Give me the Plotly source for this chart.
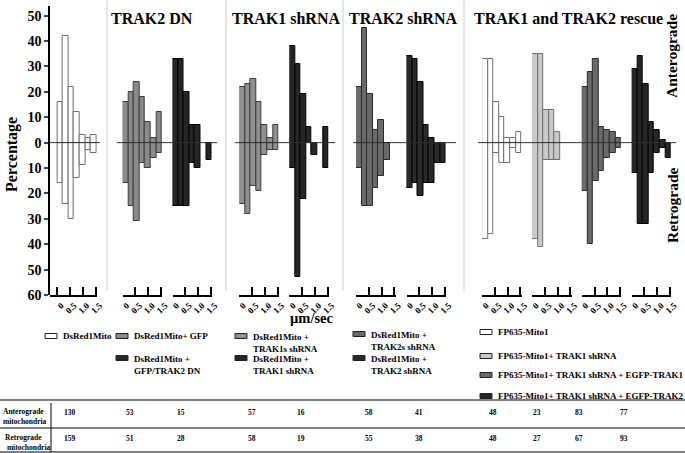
import plotly.graph_objects as go

W, H = 685, 453


def px(x):
    return x / W


def py(y):
    return 1 - y / H


# speed bins (um/sec), bar centres
speed_bins = [0.11, 0.33, 0.55, 0.77, 0.99, 1.21, 1.43]
bin_width = 0.22

# percentage of mitochondria per speed bin (anterograde up, retrograde down)
dsred_ant = [16, 42, 22, 12, 3, 2, 3]
dsred_ret = [16, 24, 30, 14, 9, 3, 4]
gfp_ant = [16, 20, 24, 18, 8, 2, 12]
gfp_ret = [16, 25, 31, 8, 10, 6, 4]
trak2dn_ant = [33, 33, 20, 7, 7, 0, 0]
trak2dn_ret = [25, 25, 25, 8, 10, 0, 7]
trak1s_ant = [22, 23, 25, 16, 7, 2, 7]
trak1s_ret = [24, 28, 17, 19, 5, 3, 3]
trak1sh_ant = [38, 31, 19, 6, 0, 0, 6]
trak1sh_ret = [10, 53, 22, 0, 5, 0, 10]
trak2s_ant = [22, 45, 19, 5, 9, 0, 0]
trak2s_ret = [10, 25, 25, 18, 13, 7, 0]
trak2sh_ant = [34, 33, 24, 7, 2, 0, 0]
trak2sh_ret = [18, 16, 21, 16, 16, 8, 8]
fp_ant = [33, 33, 16, 10, 2, 2, 4]
fp_ret = [38, 36, 4, 8, 8, 2, 4]
fpsh_ant = [35, 35, 13, 13, 4, 0, 0]
fpsh_ret = [38, 41, 7, 7, 7, 0, 0]
resc1_ant = [22, 28, 33, 6, 5, 4, 2]
resc1_ret = [19, 40, 15, 11, 6, 4, 2]
resc2_ant = [29, 34, 23, 8, 5, 1, 0]
resc2_ret = [12, 32, 32, 12, 4, 2, 6]

ant_counts = [130, 53, 15, 57, 16, 58, 41, 48, 23, 83, 77]
ret_counts = [159, 51, 28, 58, 19, 55, 38, 48, 27, 67, 93]

legend_labels = [
    "DsRed1Mito", "DsRed1Mito+ GFP", "DsRed1Mito +<br>GFP/TRAK2 DN",
    "DsRed1Mito +<br>TRAK1s shRNA", "DsRed1Mito +<br>TRAK1 shRNA",
    "DsRed1Mito +<br>TRAK2s shRNA", "DsRed1Mito +<br>TRAK2 shRNA",
    "FP635-Mito1", "FP635-Mito1+ TRAK1 shRNA",
    "FP635-Mito1+ TRAK1 shRNA + EGFP-TRAK1",
    "FP635-Mito1+ TRAK1 shRNA + EGFP-TRAK2",
]
panel_titles = ["TRAK2 DN", "TRAK1 shRNA", "TRAK2 shRNA", "TRAK1 and TRAK2 rescue"]

series = [
    (dsred_ant, dsred_ret), (gfp_ant, gfp_ret), (trak2dn_ant, trak2dn_ret),
    (trak1s_ant, trak1s_ret), (trak1sh_ant, trak1sh_ret),
    (trak2s_ant, trak2s_ret), (trak2sh_ant, trak2sh_ret),
    (fp_ant, fp_ret), (fpsh_ant, fpsh_ret), (resc1_ant, resc1_ret), (resc2_ant, resc2_ret),
]

# styles / layout
fills = ["#ffffff", "#8a8a8a", "#262626", "#909090", "#262626", "#6a6a6a", "#2a2a2a",
         "#ffffff", "#c9c9c9", "#6a6a6a", "#262626"]
edges = ["#6e6e6e", "#3a3a3a", "#000000", "#3a3a3a", "#000000", "#2a2a2a", "#000000",
         "#6e6e6e", "#6e6e6e", "#2a2a2a", "#000000"]
group_start = [57.3, 122.7, 172.5, 239.3, 289.3, 356, 406.5, 482.2, 532.2, 581.8, 631.7]
unit = 25.5
y_top, y_bot = 6, 295
FONT = "Liberation Serif"

fig = go.Figure()
layout_axes = {}
for i, (ant, ret) in enumerate(series):
    xa = "x" if i == 0 else f"x{i + 1}"
    fig.add_trace(go.Bar(x=speed_bins, y=[v if v else None for v in ant], width=bin_width,
                         marker=dict(color=fills[i], line=dict(color=edges[i], width=1)),
                         xaxis=xa, yaxis="y", showlegend=False, hoverinfo="skip"))
    fig.add_trace(go.Bar(x=speed_bins, y=[-v if v else None for v in ret], width=bin_width,
                         marker=dict(color=fills[i], line=dict(color=edges[i], width=1)),
                         xaxis=xa, yaxis="y", showlegend=False, hoverinfo="skip"))
    lo = 0.3 if i == 0 else 0.0
    s = group_start[i]
    name = "xaxis" if i == 0 else f"xaxis{i + 1}"
    layout_axes[name] = dict(
        domain=[px(s - lo * unit), px(s + 1.55 * unit)], range=[-lo, 1.55],
        anchor="y", automargin=False, showgrid=False, zeroline=False, showline=True,
        linecolor="black", linewidth=1.5, ticks="inside", ticklen=8, tickwidth=1.5,
        tickcolor="black", tickvals=[0, 0.5, 1.0, 1.5], ticktext=["0", "0.5", "1.0", "1.5"],
        tickangle=-45, ticklabelshift=4,
        tickfont=dict(family=FONT, size=9, weight="bold", color="black"),
    )

fig.update_layout(**layout_axes)
fig.update_layout(
    width=W, height=H, margin=dict(l=0, r=0, t=0, b=0, autoexpand=False),
    paper_bgcolor="white", plot_bgcolor="rgba(0,0,0,0)", barmode="relative", bargap=0,
    showlegend=False,
    yaxis=dict(domain=[py(y_bot), py(y_top)], range=[-60, 53.8], anchor="free",
               position=px(49), automargin=False, showgrid=False, zeroline=False,
               showline=True, linecolor="black", linewidth=1.5, ticks="outside", ticklen=4,
               tickwidth=1.5, tickvals=list(range(-60, 51, 10)),
               ticktext=[str(abs(v)) for v in range(-60, 51, 10)],
               tickfont=dict(family=FONT, size=14, weight="bold", color="black")),
)

shapes = []
ann = []

# panel separators and zero lines
for xs in [107, 226, 343, 464]:
    shapes.append(dict(type="line", xref="paper", yref="paper", x0=px(xs), x1=px(xs),
                       y0=py(0), y1=py(291), line=dict(color="#dddddd", width=1.5)))
for a, b in [(49, 100), (117, 217), (235, 335), (353, 456), (478, 676)]:
    shapes.append(dict(type="line", xref="paper", yref="y", x0=px(a), x1=px(b), y0=0, y1=0,
                       line=dict(color="#333333", width=1)))

# titles
for t, xs in zip(panel_titles, [109, 230, 347, 472]):
    ann.append(dict(text=t, x=px(xs), y=py(19), xanchor="left", yanchor="middle",
                    font=dict(family=FONT, size=16, weight="bold", color="black")))
ann.append(dict(text="Percentage", x=px(12), y=py(155), textangle=-90, xanchor="center",
                yanchor="middle", font=dict(family=FONT, size=16, weight="bold", color="black")))
ann.append(dict(text="Anterograde", x=px(672), y=py(56), textangle=-90, xanchor="center",
                yanchor="middle", font=dict(family=FONT, size=15.5, weight="bold", color="black")))
ann.append(dict(text="Retrograde", x=px(672), y=py(205), textangle=-90, xanchor="center",
                yanchor="middle", font=dict(family=FONT, size=15.5, weight="bold", color="black")))
ann.append(dict(text="µm/sec", x=px(312), y=py(318), xanchor="center", yanchor="middle",
                font=dict(family=FONT, size=14.5, weight="bold", color="black")))

# legend
leg_pos = [(45, 336), (116, 336), (116, 358), (235, 336), (235, 358),
           (353, 334), (353, 358), (480, 332), (480, 356), (480, 375), (480, 396)]
for i, (lab, (lx, ly)) in enumerate(zip(legend_labels, leg_pos)):
    shapes.append(dict(type="rect", xref="paper", yref="paper", x0=px(lx), x1=px(lx + 12),
                       y0=py(ly + 2.5), y1=py(ly - 2.5), fillcolor=fills[i],
                       line=dict(color="#222222", width=1)))
    two = "<br>" in lab
    ann.append(dict(text=lab, x=px(lx + 16), y=py(ly - 6) if two else py(ly),
                    xanchor="left", yanchor="top" if two else "middle", align="left",
                    font=dict(family=FONT, size=9, weight="bold", color="black")))

# table
for y0 in [400, 428, 452]:
    shapes.append(dict(type="line", xref="paper", yref="paper", x0=0, x1=1, y0=py(y0),
                       y1=py(y0), line=dict(color="black", width=1)))
shapes.append(dict(type="line", xref="paper", yref="paper", x0=px(51), x1=px(51),
                   y0=py(403), y1=py(452), line=dict(color="black", width=1)))
ann.append(dict(text="Anterograde<br>mitochondria", x=px(1), y=py(416.5), xanchor="left",
                yanchor="middle", align="left",
                font=dict(family=FONT, size=7.5, weight="bold", color="black")))
ann.append(dict(text="Retrograde<br> mitochondria", x=px(3), y=py(442), xanchor="left",
                yanchor="middle", align="left",
                font=dict(family=FONT, size=7.5, weight="bold", color="black")))
col_x = [61.5, 124, 175, 246, 295, 363, 413, 487, 531, 573, 618]
for cx, a, r in zip(col_x, ant_counts, ret_counts):
    ann.append(dict(text=str(a), x=px(cx), y=py(412), xanchor="left", yanchor="middle",
                    font=dict(family=FONT, size=7.5, weight="bold", color="black")))
    ann.append(dict(text=str(r), x=px(cx), y=py(438), xanchor="left", yanchor="middle",
                    font=dict(family=FONT, size=7.5, weight="bold", color="black")))

for a in ann:
    a.update(xref="paper", yref="paper", showarrow=False)
fig.update_layout(shapes=shapes, annotations=ann)

# the page body has a default 8px margin; remove it so the figure fills the window
fig.write_html("out.html", config={"displayModeBar": False},
               post_script="document.body.style.margin='0';")
